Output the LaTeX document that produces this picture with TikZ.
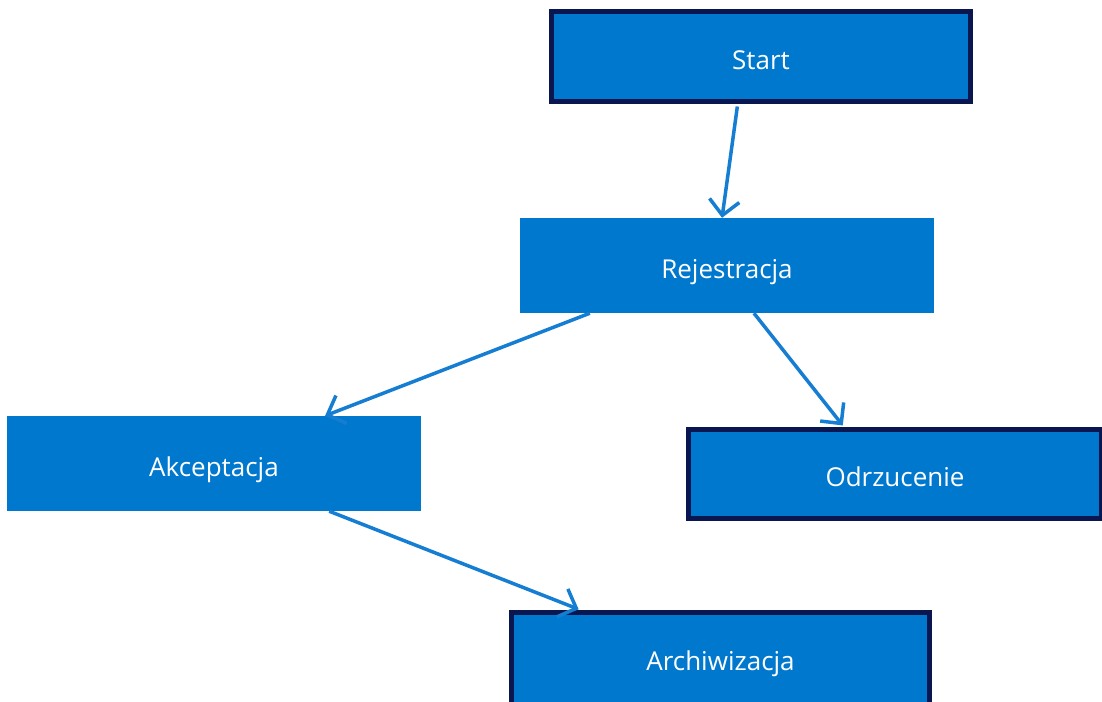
\documentclass[tikz,border=0pt]{standalone}
\usepackage{fontspec}
\setmainfont{Open Sans}
\usetikzlibrary{arrows.meta,calc}
\definecolor{boxblue}{RGB}{0,120,206}
\definecolor{navy}{RGB}{10,22,80}
\definecolor{arrowblue}{RGB}{22,126,210}
\begin{document}
\begin{tikzpicture}[x=1pt,y=-1pt,
  plainbox/.style={fill=boxblue,draw=none,minimum width=414pt,minimum height=95pt,inner sep=0pt,
    text=white,font=\fontsize{26}{30}\selectfont,text height=28pt,text depth=2.4pt},
  borderbox/.style={plainbox,draw=navy,line width=5pt},
  flow/.style={draw=arrowblue,line width=3.5pt,-{Straight Barb[length=15pt,width=30pt,line width=3.5pt]}}]
\useasboundingbox (0,0) rectangle (1102,701);
\clip (0,0) rectangle (1102,701);
\node[borderbox,minimum width=419pt,minimum height=90pt] (start) at (761,56.5) {Start};
\node[plainbox] (rej) at (727,265.5) {Rejestracja};
\node[plainbox] (akc) at (214,463.5) {Akceptacja};
\node[borderbox,minimum width=413pt,minimum height=89pt] (odr) at (895,474) {Odrzucenie};
\node[borderbox,minimum width=418pt,minimum height=110pt] (arc) at (720.5,667.5) {\raisebox{10pt}{Archiwizacja}};
\draw[flow,shorten <=2.5pt] ($(start.south west)!0.445!(start.south east)$) -- ($(rej.north west)!0.488!(rej.north east)$);
\draw[flow] ($(rej.south west)!0.169!(rej.south east)$) -- ($(akc.north west)!0.768!(akc.north east)$);
\draw[flow,shorten >=2pt] ($(rej.south west)!0.565!(rej.south east)$) -- ($(odr.north west)!0.378!(odr.north east)$);
\draw[flow,shorten >=2pt] ($(akc.south west)!0.778!(akc.south east)$) -- ($(arc.north west)!0.169!(arc.north east)$);
\end{tikzpicture}
\end{document}
